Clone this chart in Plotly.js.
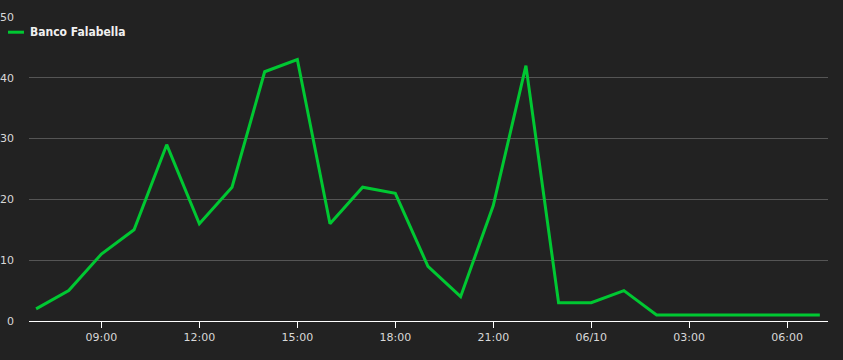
<!DOCTYPE html>
<html>
<head>
<meta charset="utf-8">
<script src="https://cdn.plot.ly/plotly-3.0.1.min.js"></script>
<style>
html,body{margin:0;padding:0;background:#222222;}
#chart{width:843px;height:360px;}
</style>
</head>
<body>
<div id="chart"></div>
<script>
var seriesName = 'Banco Falabella';
var times = [
  '2023-06-09 07:00','2023-06-09 08:00','2023-06-09 09:00','2023-06-09 10:00','2023-06-09 11:00',
  '2023-06-09 12:00','2023-06-09 13:00','2023-06-09 14:00','2023-06-09 15:00','2023-06-09 16:00',
  '2023-06-09 17:00','2023-06-09 18:00','2023-06-09 19:00','2023-06-09 20:00','2023-06-09 21:00',
  '2023-06-09 22:00','2023-06-09 23:00','2023-06-10 00:00','2023-06-10 01:00','2023-06-10 02:00',
  '2023-06-10 03:00','2023-06-10 04:00','2023-06-10 05:00','2023-06-10 06:00','2023-06-10 07:00'
];
var values = [2, 5, 11, 15, 29, 16, 22, 41, 43, 16, 22, 21, 9, 4, 19, 42, 3, 3, 5, 1, 1, 1, 1, 1, 1];
var tickVals = ['2023-06-09 09:00','2023-06-09 12:00','2023-06-09 15:00','2023-06-09 18:00',
                '2023-06-09 21:00','2023-06-10 00:00','2023-06-10 03:00','2023-06-10 06:00'];
var tickText = ['09:00','12:00','15:00','18:00','21:00','06/10','03:00','06:00'];
var yTicks = [0, 10, 20, 30, 40, 50];

var lineColor = '#00c832';
var tickFont = {family: '"DejaVu Sans", sans-serif', size: 11, color: '#d8d8d8'};

var trace = {
  type: 'scatter', mode: 'lines', name: seriesName,
  x: times, y: values,
  line: {color: lineColor, width: 3},
  hoverinfo: 'x+y'
};

var layout = {
  width: 843, height: 360,
  paper_bgcolor: '#222222', plot_bgcolor: '#222222',
  margin: {l: 29, r: 15, t: 17, b: 39, autoexpand: false},
  showlegend: false,
  xaxis: {
    type: 'date',
    range: ['2023-06-09 06:47', '2023-06-10 07:15'],
    tickmode: 'array', tickvals: tickVals, ticktext: tickText,
    ticks: 'outside', ticklen: 6, tickwidth: 1, tickcolor: '#ffffff',
    showline: true, linecolor: '#ffffff', linewidth: 1,
    showgrid: false, zeroline: false,
    tickfont: tickFont
  },
  yaxis: {
    range: [0, 50],
    tickmode: 'array', tickvals: yTicks,
    showgrid: true, gridcolor: '#555555', gridwidth: 1,
    zeroline: false, showline: false, ticks: '',
    ticklabelstandoff: 14,
    tickfont: tickFont
  },
  shapes: [{
    type: 'line', xref: 'paper', yref: 'paper',
    x0: -0.0263, x1: -0.0063, y0: 0.95, y1: 0.95,
    line: {color: lineColor, width: 3}
  }],
  annotations: [{
    xref: 'paper', yref: 'paper', x: -0.0012, y: 0.95,
    xanchor: 'left', yanchor: 'middle', showarrow: false,
    text: '<b>' + seriesName + '</b>',
    font: {family: '"DejaVu Sans Condensed", "DejaVu Sans", sans-serif', size: 12, color: '#f0f0f0'}
  }]
};

Plotly.newPlot('chart', [trace], layout, {displayModeBar: false});
</script>
</body>
</html>
